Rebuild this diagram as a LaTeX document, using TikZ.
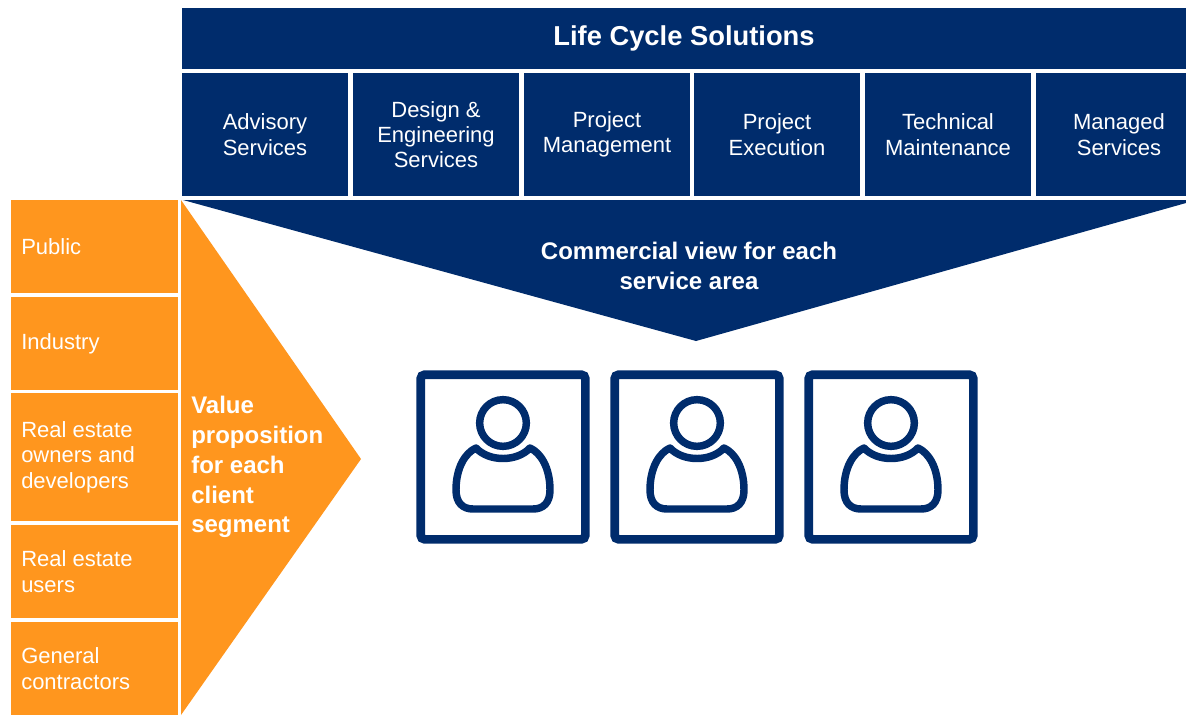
\documentclass[tikz,border=0pt]{standalone}
\usepackage{fontspec}
\setmainfont{Liberation Sans}
\definecolor{navy}{HTML}{002C6C}
\definecolor{orng}{HTML}{FF961E}
\newcommand{\PX}[1]{#1*0.75pt}
\tikzset{x=0.75pt,y=-0.75pt,
 navybox/.style={fill=navy,draw=none,text=white,inner sep=0pt,align=center,font=\fontsize{16.5}{19}\selectfont},
 orbox/.style={fill=orng,draw=none,text=white,inner sep=0pt,align=left,font=\fontsize{16.5}{19}\selectfont},
 person/.style={draw=navy,line width=4.6pt,line join=round}}
\newcommand{\userbox}[2]{%
 \node[draw=navy,line width=6.5pt,rounded corners=3pt,minimum width=123.5pt,minimum height=123.5pt,inner sep=0pt,fill=white] (#2) at (#1,457) {};
 \draw[draw=navy,line width=5.6pt] (#1,423) circle[radius=17.5pt];
 \draw[draw=navy,line width=5.6pt,line join=round]
  (#1-27,448) .. controls (#1-38,453) and (#1-47,468) .. (#1-47,490)
  .. controls (#1-47,503) and (#1-40,509) .. (#1-30,509) -- (#1+30,509)
  .. controls (#1+40,509) and (#1+47,503) .. (#1+47,490)
  .. controls (#1+47,468) and (#1+38,453) .. (#1+27,448)
  .. controls (#1+14,462) and (#1-14,462) .. (#1-27,448) -- cycle;
}
\begin{document}
\begin{tikzpicture}
\useasboundingbox (0,0) rectangle (1186,715);
\fill[white] (0,0) rectangle (1186,715);
\node[navybox,font=\fontsize{20.5}{24}\selectfont\bfseries,anchor=center,minimum width=753.75pt,minimum height=45.5pt] (title) at (684,38.5) {Life Cycle Solutions};
\foreach \n/\x/\t in {a/265/{Advisory\\Services},b/436/{Design \&\\Engineering\\Services},c/607/{Project\\Management},d/777/{Project\\Execution},e/948/{Technical\\Maintenance},f/1119/{Managed\\Services}}{
 \node[navybox,minimum width=125pt,minimum height=92pt] (\n) at (\x,134.5) {\t};
}
\fill[navy] (183,200) -- (1186,200) -- (1186,203) -- (696,341) -- cycle;
\node[text=white,font=\fontsize{18}{22}\selectfont\bfseries,align=center,inner sep=0pt] (cv) at (689,266) {Commercial view for each\\service area};
\foreach \n/\yt/\yb/\t in {p/200/293/{Public},i/297/390/{Industry},r/393/521/{Real estate\\owners and\\developers},u/525/618/{Real estate\\users},g/622/715/{General\\contractors}}{
 \fill[orng] (11,\yt) rectangle (178,\yb);
 \node[orbox,fill=none,anchor=west] (\n) at (21,{(\yt+\yb)/2}) {\t};
}
\fill[orng] (181,200) -- (361,459) -- (181,715) -- cycle;
\node[text=white,font=\fontsize{18}{22.4}\selectfont\bfseries,align=left,inner sep=0pt,anchor=west] (vp) at (191,467) {Value\\proposition\\for each\\client\\segment};
\userbox{503}{ua}
\userbox{697}{ub}
\userbox{891}{uc}
\end{tikzpicture}
\end{document}
